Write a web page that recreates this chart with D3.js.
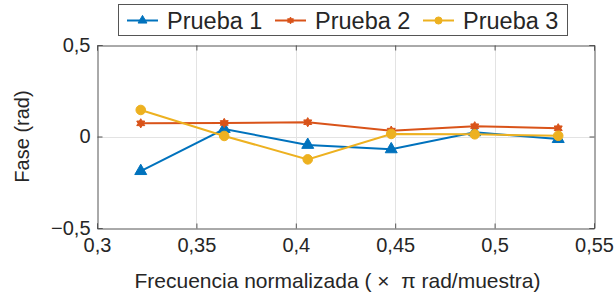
<!DOCTYPE html>
<html>
<head>
<meta charset="utf-8">
<script src="https://cdn.jsdelivr.net/npm/d3@7"></script>
<style>
  body { margin: 0; background: #fff; }
  text { font-family: "Liberation Sans", Arial, sans-serif; fill: #262626; }
</style>
</head>
<body>
<script>
// data
const freq = [0.322, 0.364, 0.406, 0.448, 0.490, 0.532]
const prueba1 = [-0.189, 0.041, -0.046, -0.070, 0.023, -0.014]
const prueba2 = [0.072, 0.074, 0.078, 0.032, 0.056, 0.045]
const prueba3 = [0.145, 0.003, -0.125, 0.014, 0.012, 0.004]
const seriesNames = ['Prueba 1', 'Prueba 2', 'Prueba 3']
const xTicks = [0.3, 0.35, 0.4, 0.45, 0.5, 0.55]
const yTicks = [-0.5, 0, 0.5]

const m = { width: 616, height: 297, left: 97, right: 594, top: 45, bottom: 228 }
const colors = ['#0072BD', '#D95319', '#EDB120']
const shapes = [d3.symbolTriangle, 'hexagram', d3.symbolCircle]
const sizes = [62, 34, 72]

const svg = d3.select('body').append('svg')
    .attr('width', m.width)
    .attr('height', m.height)

const x = d3.scaleLinear().domain([0.3, 0.55]).range([m.left, m.right])
const y = d3.scaleLinear().domain([-0.5, 0.5]).range([m.bottom, m.top])

const fmt = v => d3.format('')(v).replace('.', ',').replace('-', '\u2212')

// grid
svg.append('g').selectAll('line')
    .data(xTicks.slice(1, -1))
    .join('line')
    .attr('x1', d => Math.round(x(d)) + 0.5).attr('x2', d => Math.round(x(d)) + 0.5)
    .attr('y1', m.top).attr('y2', m.bottom)
    .attr('stroke', '#e3e3e3')
svg.append('line')
    .attr('x1', m.left).attr('x2', m.right)
    .attr('y1', Math.round(y(0)) + 0.5).attr('y2', Math.round(y(0)) + 0.5)
    .attr('stroke', '#e3e3e3')

// axes
const xAxis = d3.axisBottom(x).tickValues(xTicks).tickSize(-5).tickPadding(9).tickFormat(fmt)
svg.append('g')
    .attr('transform', `translate(0,${m.bottom + 0.5})`)
    .call(xAxis)
const yAxis = d3.axisLeft(y).tickValues(yTicks).tickSize(-5).tickPadding(7).tickFormat(fmt)
svg.append('g')
    .attr('transform', `translate(${m.left + 0.5},0)`)
    .call(yAxis)
svg.append('g')
    .attr('transform', `translate(0,${m.top + 0.5})`)
    .call(d3.axisTop(x).tickValues(xTicks).tickSize(-5).tickFormat(''))
svg.append('g')
    .attr('transform', `translate(${m.right + 0.5},0)`)
    .call(d3.axisRight(y).tickValues(yTicks).tickSize(-5).tickFormat(''))

svg.selectAll('.domain, .tick line').attr('stroke', '#555')
svg.selectAll('.tick text').attr('font-size', 20).attr('fill', '#262626')
    .style('font-family', '"Liberation Sans", Arial, sans-serif')

// hexagram symbol
const hexagram = {
    draw(ctx, size) {
        const r = Math.sqrt(size / 1.6)
        const ri = r * 0.58
        for (let i = 0; i < 12; i++) {
            const a = Math.PI / 6 * i - Math.PI / 2
            const rr = i % 2 === 0 ? r : ri
            if (i === 0) ctx.moveTo(rr * Math.cos(a), rr * Math.sin(a))
            else ctx.lineTo(rr * Math.cos(a), rr * Math.sin(a))
        }
        ctx.closePath()
    }
}
const symbolFor = (i, k = 1) => d3.symbol()
    .type(shapes[i] === 'hexagram' ? hexagram : shapes[i])
    .size(sizes[i] * k)

// series
const all = [prueba1, prueba2, prueba3]
const line = d3.line().x((d, i) => x(freq[i])).y(d => y(d))
all.forEach((vals, s) => {
    const g = svg.append('g')
    g.append('path')
        .attr('d', line(vals))
        .attr('fill', 'none')
        .attr('stroke', colors[s])
        .attr('stroke-width', 2)
    g.selectAll('path.pt')
        .data(vals)
        .join('path')
        .attr('class', 'pt')
        .attr('transform', (d, i) => `translate(${x(freq[i])},${y(d)})`)
        .attr('d', symbolFor(s)())
        .attr('fill', colors[s])
        .attr('stroke', colors[s])
        .attr('stroke-width', 1)
})

// axis labels
svg.append('text')
    .attr('x', (m.left + m.right) / 2 - 8)
    .attr('y', 288)
    .attr('text-anchor', 'middle')
    .attr('font-size', 21)
    .style('white-space', 'pre')
    .text('Frecuencia normalizada ( \u00d7  \u03c0 rad/muestra)')

svg.append('text')
    .attr('transform', `translate(29, ${(m.top + m.bottom) / 2})rotate(-90)`)
    .attr('text-anchor', 'middle')
    .attr('font-size', 20)
    .text('Fase (rad)')

// legend
const leg = svg.append('g')
leg.append('rect')
    .attr('x', 118.5).attr('y', 4.5)
    .attr('width', 449).attr('height', 31)
    .attr('fill', '#fff')
    .attr('stroke', '#555')
const legX = [127, 275, 423]
seriesNames.forEach((name, s) => {
    const e = leg.append('g').attr('transform', `translate(${legX[s]},20.5)`)
    e.append('line')
        .attr('x1', 0).attr('x2', 31)
        .attr('stroke', colors[s]).attr('stroke-width', 2)
    e.append('path')
        .attr('transform', 'translate(15.5,0)')
        .attr('d', symbolFor(s, 0.55)())
        .attr('fill', colors[s]).attr('stroke', colors[s])
    e.append('text')
        .attr('x', 40).attr('y', 8.5)
        .attr('font-size', 23.5)
        .text(name)
})
</script>
</body>
</html>
